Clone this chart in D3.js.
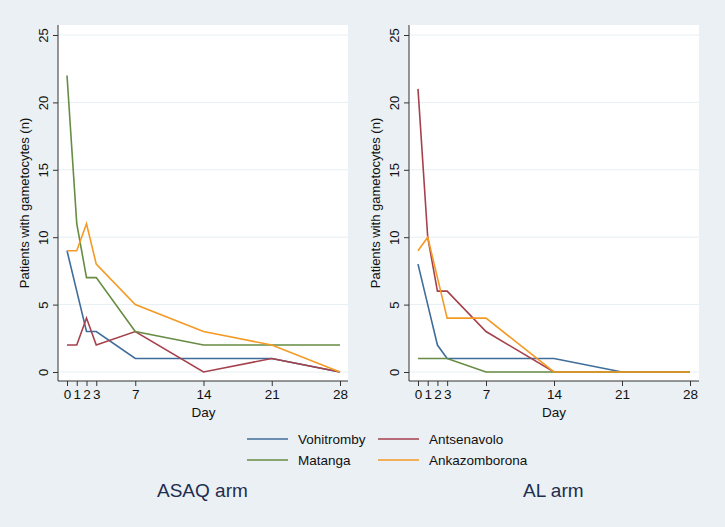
<!DOCTYPE html>
<html>
<head>
<meta charset="utf-8">
<script src="https://cdn.jsdelivr.net/npm/d3@7"></script>
<style>
    body { margin: 0; background: #eaf0f3; }
    #chart { width: 725px; height: 527px; }
    text { font-family: Arial, "Liberation Sans", sans-serif; fill: #111; }
</style>
</head>
<body>
<div id="chart"></div>
<script>
const days = [0, 1, 2, 3, 7, 14, 21, 28];
const sites = ["Vohitromby", "Antsenavolo", "Matanga", "Ankazomborona"];
const siteColors = ["#3f6d9a", "#a5414c", "#678c43", "#f49a25"];
const yTicks = [0, 5, 10, 15, 20, 25];

// ASAQ arm
const asaqVohitromby = [9, 6, 3, 3, 1, 1, 1, 0];
const asaqAntsenavolo = [2, 2, 4, 2, 3, 0, 1, 0];
const asaqMatanga = [22, 11, 7, 7, 3, 2, 2, 2];
const asaqAnkazomborona = [9, 9, 11, 8, 5, 3, 2, 0];

// AL arm
const alVohitromby = [8, 5, 2, 1, 1, 1, 0, 0];
const alAntsenavolo = [21, 10, 6, 6, 3, 0, 0, 0];
const alMatanga = [1, 1, 1, 1, 0, 0, 0, 0];
const alAnkazomborona = [9, 10, 7, 4, 4, 0, 0, 0];

const panels = [
    {title: "ASAQ arm", series: [asaqVohitromby, asaqAntsenavolo, asaqMatanga, asaqAnkazomborona],
     left: 58, right: 348, x0: 67, x1: 340, titleX: 157},
    {title: "AL arm", series: [alVohitromby, alAntsenavolo, alMatanga, alAnkazomborona],
     left: 409, right: 699, x0: 418, x1: 690, titleX: 523}
];

const width = 725, height = 527;
const plotTop = 25, plotBottom = 381;

const svg = d3.select("#chart")
    .append("svg")
    .attr("width", width)
    .attr("height", height);

svg.append("rect").attr("width", width).attr("height", height).attr("fill", "#eaf0f3");

const yScale = d3.scaleLinear().domain([0, 25]).range([372, 35]);

panels.forEach(function(p) {
    const xScale = d3.scaleLinear().domain([0, 28]).range([p.x0, p.x1]);

    // plot region
    svg.append("rect")
        .attr("x", p.left).attr("y", plotTop)
        .attr("width", p.right - p.left).attr("height", plotBottom - plotTop)
        .attr("fill", "#ffffff");

    // gridlines
    svg.append("g").selectAll("line")
        .data(yTicks)
        .enter()
        .append("line")
            .attr("x1", p.left).attr("x2", p.right)
            .attr("y1", function(d) { return yScale(d); })
            .attr("y2", function(d) { return yScale(d); })
            .attr("stroke", "#e6eff2")
            .attr("stroke-width", 1);

    // y axis
    const yAxis = svg.append("g")
        .attr("transform", `translate(${p.left},0)`)
        .call(d3.axisLeft(yScale).tickValues(yTicks).tickSize(5).tickPadding(5));
    yAxis.select(".domain").attr("d", `M0,${plotTop}V${plotBottom}`).attr("stroke", "#333");
    yAxis.selectAll(".tick line").attr("stroke", "#333");
    yAxis.selectAll(".tick text")
        .attr("font-size", 13)
        .attr("fill", "#111")
        .attr("text-anchor", "middle")
        .attr("x", 0)
        .attr("y", 0)
        .attr("dy", "0.35em")
        .attr("transform", "translate(-15,0) rotate(-90)");

    // x axis
    const xAxis = svg.append("g")
        .attr("transform", `translate(0,${plotBottom})`)
        .call(d3.axisBottom(xScale).tickValues(days).tickSize(5).tickPadding(3));
    xAxis.select(".domain").attr("d", `M${p.left},0H${p.right}`).attr("stroke", "#333");
    xAxis.selectAll(".tick line").attr("stroke", "#333");
    xAxis.selectAll(".tick text").attr("font-size", 13.5).attr("fill", "#111");

    // axis labels
    svg.append("text")
        .attr("x", (p.x0 + p.x1) / 2)
        .attr("y", 417)
        .attr("text-anchor", "middle")
        .attr("font-size", 13.5)
        .text("Day");

    svg.append("text")
        .attr("transform", `translate(${p.left - 29},${(plotTop + plotBottom) / 2}) rotate(-90)`)
        .attr("text-anchor", "middle")
        .attr("font-size", 13)
        .text("Patients with gametocytes (n)");

    // lines
    const line = d3.line()
        .x(function(d, i) { return xScale(days[i]); })
        .y(function(d) { return yScale(d); });

    p.series.forEach(function(s, i) {
        svg.append("path")
            .datum(s)
            .attr("d", line)
            .attr("fill", "none")
            .attr("stroke", siteColors[i])
            .attr("stroke-width", 1.6);
    });

    // panel title
    svg.append("text")
        .attr("x", p.titleX)
        .attr("y", 497)
        .attr("font-size", 19)
        .style("fill", "#1e2d4f")
        .text(p.title);
});

// legend
const legendCols = [247, 378];
const legendRows = [439, 460];
sites.forEach(function(name, i) {
    const lx = legendCols[i % 2];
    const ly = legendRows[Math.floor(i / 2)];
    svg.append("line")
        .attr("x1", lx).attr("x2", lx + 41)
        .attr("y1", ly).attr("y2", ly)
        .attr("stroke", siteColors[i])
        .attr("stroke-width", 1.6);
    svg.append("text")
        .attr("x", lx + 51)
        .attr("y", ly)
        .attr("dy", "0.35em")
        .attr("font-size", 13.5)
        .text(name);
});
</script>
</body>
</html>
